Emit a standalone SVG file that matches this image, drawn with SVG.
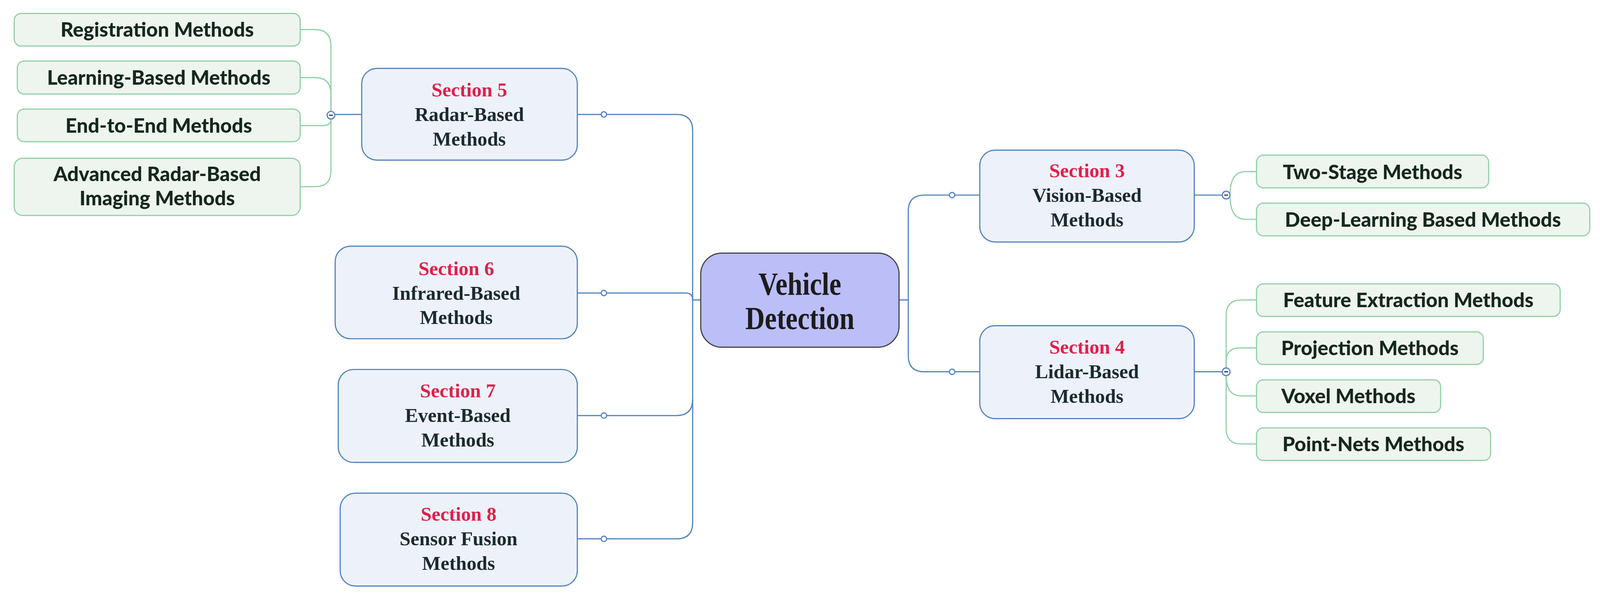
<svg xmlns="http://www.w3.org/2000/svg" width="4168" height="1568" viewBox="0 0 4168 1568">
<style>
.sec rect{fill:#edf2fa;stroke:#5283c0;stroke-width:3}
.sub rect{fill:#edf5ee;stroke:#93cfa5;stroke-width:3}
.sub text{font-family:Lato,"Open Sans",sans-serif;font-weight:900;font-size:52px;fill:#16281e;text-anchor:middle}
.sec text{font-family:"Liberation Serif",serif;font-weight:bold;font-size:51px;fill:#1c2a30;text-anchor:middle}
.sec .r{fill:#e0204a}
.bl{fill:none;stroke:#5283c0;stroke-width:3}
.gl{fill:none;stroke:#93cfa5;stroke-width:3}
.dot{fill:#fff;stroke:#5283c0;stroke-width:3}
.col{fill:#fff;stroke:#5283c0;stroke-width:3}
.mn{stroke:#333;stroke-width:3}
</style>
<g transform="scale(0.984)">
<g id="connectors">
<path class="bl" d="M1823,781 H1802 V340 Q1802,298 1760,298 H1502"/>
<path class="bl" d="M1802,781 Q1802,763 1784,763 H1502"/>
<path class="bl" d="M1802,781 V1040 Q1802,1082 1760,1082 H1502"/>
<path class="bl" d="M1802,1040 V1361 Q1802,1403 1760,1403 H1502"/>
<path class="bl" d="M2339,781 H2363 V550 Q2363,508 2405,508 H2549"/>
<path class="bl" d="M2363,781 V926 Q2363,968 2405,968 H2549"/>
<circle class="dot" cx="1571" cy="298" r="7"/>
<circle class="dot" cx="1571" cy="763" r="7"/>
<circle class="dot" cx="1571" cy="1082" r="7"/>
<circle class="dot" cx="1571" cy="1403" r="7"/>
<circle class="dot" cx="2477" cy="508" r="7"/>
<circle class="dot" cx="2477" cy="968" r="7"/>
<path class="bl" d="M941,298 H871"/>
<path class="gl" d="M861,290 V120 Q861,77 820,77 H781"/>
<path class="gl" d="M861,290 V245 Q861,202 820,202 H781"/>
<path class="gl" d="M861,310 Q861,327 840,327 H781"/>
<path class="gl" d="M861,310 V444 Q861,486 820,486 H781"/>
<path class="bl" d="M3107,508 H3180"/>
<path class="gl" d="M3200,508 Q3200,447 3240,447 H3269"/>
<path class="gl" d="M3200,508 Q3200,571 3240,571 H3269"/>
<path class="bl" d="M3107,968 H3180"/>
<path class="gl" d="M3190,958 V821 Q3190,781 3230,781 H3269"/>
<path class="gl" d="M3190,958 V940 Q3190,906 3225,906 H3269"/>
<path class="gl" d="M3190,978 Q3190,1031 3230,1031 H3269"/>
<path class="gl" d="M3190,978 V1116 Q3190,1156 3230,1156 H3269"/>
<circle class="col" cx="861" cy="300" r="10"/><line class="mn" x1="856" y1="300" x2="866" y2="300"/>
<circle class="col" cx="3190" cy="508" r="10"/><line class="mn" x1="3185" y1="508" x2="3195" y2="508"/>
<circle class="col" cx="3190" cy="968" r="10"/><line class="mn" x1="3185" y1="968" x2="3195" y2="968"/>
</g>
<g id="center">
<rect x="1823" y="659" width="516" height="245" rx="55" fill="#bcbef8" stroke="#444" stroke-width="3"/>
<g font-family="Liberation Serif,serif" font-weight="bold" font-size="70" fill="#1c1c1c" text-anchor="middle">
<text transform="translate(2081,767) scale(1,1.2)">Vehicle</text>
<text transform="translate(2081,857) scale(1,1.2)">Detection</text>
</g>
</g>
<g id="radar" class="sec"><rect x="941" y="178" width="561" height="239" rx="40"/><text class="r" x="1221" y="251">Section 5</text><text x="1221" y="315">Radar-Based</text><text x="1221" y="379">Methods</text></g>
<g id="infrared" class="sec"><rect x="872" y="641" width="630" height="241" rx="40"/><text class="r" x="1187" y="716">Section 6</text><text x="1187" y="780">Infrared-Based</text><text x="1187" y="844">Methods</text></g>
<g id="event" class="sec"><rect x="880" y="962" width="622" height="242" rx="40"/><text class="r" x="1191" y="1035">Section 7</text><text x="1191" y="1099">Event-Based</text><text x="1191" y="1163">Methods</text></g>
<g id="fusion" class="sec"><rect x="885" y="1284" width="617" height="242" rx="40"/><text class="r" x="1193" y="1356">Section 8</text><text x="1193" y="1420">Sensor Fusion</text><text x="1193" y="1484">Methods</text></g>
<g id="vision" class="sec"><rect x="2549" y="391" width="558" height="239" rx="40"/><text class="r" x="2828" y="461">Section 3</text><text x="2828" y="525">Vision-Based</text><text x="2828" y="589">Methods</text></g>
<g id="lidar" class="sec"><rect x="2549" y="848" width="558" height="242" rx="40"/><text class="r" x="2828" y="921">Section 4</text><text x="2828" y="985">Lidar-Based</text><text x="2828" y="1049">Methods</text></g>
<g id="registration" class="sub"><rect x="37" y="35" width="744" height="85" rx="18"/><text x="409" y="96">Registration Methods</text></g>
<g id="learning" class="sub"><rect x="45" y="159" width="736" height="86" rx="18"/><text x="413" y="221">Learning-Based Methods</text></g>
<g id="endtoend" class="sub"><rect x="45" y="284" width="736" height="85" rx="18"/><text x="413" y="346">End-to-End Methods</text></g>
<g id="advanced" class="sub"><rect x="37" y="412" width="744" height="149" rx="22"/><text x="409" y="472">Advanced Radar-Based</text><text x="409" y="535">Imaging Methods</text></g>
<g id="twostage" class="sub"><rect x="3269" y="404" width="604" height="85" rx="18"/><text x="3571" y="466">Two-Stage Methods</text></g>
<g id="deep" class="sub"><rect x="3269" y="529" width="867" height="85" rx="18"/><text x="3702" y="590">Deep-Learning Based Methods</text></g>
<g id="feature" class="sub"><rect x="3269" y="739" width="790" height="85" rx="18"/><text x="3664" y="800">Feature Extraction Methods</text></g>
<g id="projection" class="sub"><rect x="3269" y="864" width="590" height="85" rx="18"/><text x="3564" y="925">Projection Methods</text></g>
<g id="voxel" class="sub"><rect x="3269" y="989" width="479" height="85" rx="18"/><text x="3508" y="1050">Voxel Methods</text></g>
<g id="pointnets" class="sub"><rect x="3269" y="1114" width="609" height="85" rx="18"/><text x="3573" y="1175">Point-Nets Methods</text></g>
</g>
</svg>
